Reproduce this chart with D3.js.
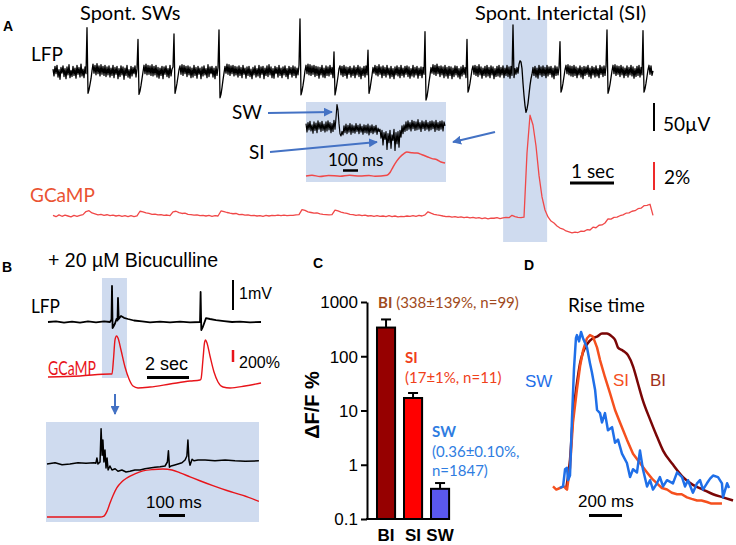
<!DOCTYPE html>
<html><head><meta charset="utf-8">
<script src="https://cdn.jsdelivr.net/npm/d3@7"></script>
<style>body{margin:0;background:#fff}</style>
</head><body>
<svg id="fig" width="736" height="545" xmlns="http://www.w3.org/2000/svg"></svg>
<script>
// ---------------- DATA ----------------
// Panel A: spontaneous LFP (µV), 44 samples/s
const lfpA_fs = 44;
const lfpA = [
 5,-7,10,-3,12,-9,4,-13,8,-2,11,-8,6,-12,9,-5,13,-10,3,-8,
 10,-6,7,-11,12,-4,8,-9,14,-7,5,-10,9,-3,79,-38,-32,-22,-12,2,
 14,-2,12,-5,15,-3,11,-7,13,-4,10,-6,12,-8,9,-5,11,-9,7,-6,
 12,-10,8,-4,10,-12,6,-8,11,-5,9,-13,7,-6,12,-9,4,-11,10,-7,
 8,-3,11,-9,6,58,-40,-34,-24,-12,0,12,-3,14,-5,12,-4,11,-6,13,
 -7,10,-5,12,-9,8,-11,7,-6,10,-12,9,-4,11,-8,6,-10,12,-7,5,
 9,68,-38,-30,-20,-8,4,11,-4,13,-6,12,-3,10,-8,11,-5,9,-10,7,
 -9,12,-6,8,-11,10,-4,7,-12,9,-7,11,-5,6,-10,13,-8,9,-3,10,
 -9,7,-12,10,-6,8,75,-46,-40,-28,-14,-2,10,-2,14,-4,13,-6,11,-3,
 12,-7,10,-5,9,-9,11,-6,8,-10,12,-4,7,-11,9,-6,10,-8,5,-12,
 8,-5,11,-9,6,-7,12,-10,9,-4,10,-12,7,-6,11,-8,13,-5,9,-10,
 6,-11,10,-3,8,-9,12,-6,7,-10,9,-5,11,-8,6,-12,10,-4,8,-9,
 11,-6,9,-10,7,-5,12,95,-41,-34,-24,-12,2,12,-3,14,-5,13,-6,11,
 -4,12,-8,10,-6,9,-11,8,-5,12,-9,7,-10,11,-6,9,-7,12,-4,8,
 -10,36,-41,-32,-20,-8,6,11,-5,10,-8,12,-6,9,-11,8,-4,10,-9,7,
 -6,11,-10,8,-5,12,-8,9,-12,7,-6,10,-9,11,-5,39,-38,-30,-18,-6,
 8,-2,12,-5,10,-7,13,-4,9,-10,11,-6,8,-9,12,-5,7,-11,10,-8,
 6,-12,9,-5,11,-7,8,-10,12,-6,7,-9,10,-4,11,-8,9,-11,6,-7,
 12,-9,8,-5,10,-11,7,-6,9,-10,8,-4,72,-50,-44,-32,-18,-6,8,-2,
 13,-4,12,-6,14,-3,10,-8,11,-5,9,-10,12,-7,8,-11,10,-6,9,-12,
 7,-8,11,-5,10,-9,6,-12,9,-7,12,-4,8,-10,58,-36,-30,-20,-8,4,
 11,-4,12,-6,10,-8,13,-5,9,-11,7,-6,10,-9,12,-7,8,-10,11,-5,
 9,-12,6,-8,10,-7,12,-9,8,-5,11,-10,7,-6,12,-8,9,-11,10,-6,
 84,-10,6,-4,8,-2,14,20,18,6,-20,-42,-60,-72,-66,-56,-40,-24,-12,-4,
 8,-6,10,-9,7,-11,12,-5,9,-8,11,-6,8,-10,12,-7,9,-4,10,-9,
 7,-12,11,-6,9,-5,8,54,-36,-30,-20,-8,4,12,-3,13,-5,11,-7,10,
 -8,12,-6,9,-10,7,-5,11,-9,8,-12,10,-6,9,-4,12,-8,7,-11,10,
 -5,8,-9,11,-7,6,-10,12,-4,9,-8,11,-6,10,75,-38,-32,-22,-10,2,
 12,-3,13,-6,11,-4,10,-8,12,-5,9,-10,7,-6,11,-9,8,-5,12,-7,
 9,-11,6,-8,10,-6,12,-9,8,-5,74,-36,-30,-20,-8,4,12,-4,11,-6,
 2
];
// Panel A: GCaMP ΔF/F (%), 44/3 samples/s
const gcampA_fs = 44 / 3;
const gcampA = [
 0.05,-0.05,0.08,-0.02,0.06,0.0,-0.06,0.04,-0.03,0.05,
 0.1,0.32,0.38,0.22,0.15,0.08,0.12,0.05,0.09,0.02,
 0.06,0.0,0.04,-0.03,0.02,-0.05,0.03,-0.04,0.01,0.34,
 0.3,0.22,0.18,0.12,0.14,0.08,0.1,0.05,0.07,0.02,
 0.3,0.34,0.24,0.18,0.2,0.12,0.1,0.06,0.08,0.03,
 0.05,0.0,0.04,-0.02,0.03,0.0,0.36,0.32,0.25,0.2,
 0.16,0.18,0.1,0.12,0.06,0.08,0.02,0.05,0.0,0.03,
 -0.02,0.04,0.0,0.05,0.02,0.07,0.03,0.06,0.02,0.05,
 0.04,0.08,0.1,0.45,0.4,0.3,0.25,0.2,0.22,0.15,
 0.12,0.1,0.08,0.1,0.42,0.36,0.28,0.22,0.18,0.12,
 0.1,0.05,0.08,0.02,0.06,0.0,0.03,-0.02,0.02,-0.03,
 0.0,-0.04,0.02,-0.05,0.0,-0.06,-0.02,-0.05,0.0,-0.03,
 0.02,-0.02,0.05,0.0,0.08,0.3,0.2,0.12,0.08,0.05,
 0.0,-0.04,-0.02,-0.08,-0.05,-0.1,-0.06,-0.12,-0.08,-0.14,
 -0.1,-0.15,-0.12,-0.18,-0.14,-0.2,-0.15,-0.16,-0.12,-0.18,
 -0.14,-0.1,-0.12,0.05,-0.05,-0.1,-0.12,-0.08,4.5,7.2,
 6.5,5.0,2.9,1.36,0.43,-0.07,-0.36,-0.5,-0.71,-0.86,
 -0.93,-1.07,-1.14,-1.21,-1.15,-1.18,-1.08,-1.1,-0.98,-1.0,
 -0.8,-0.84,-0.66,-0.64,-0.5,-0.2,-0.22,-0.1,-0.08,0.02,
 0.08,0.2,0.22,0.34,0.38,0.52,0.56,0.74,0.76,0.84,
 0.05
];
const highlightA = [10.23, 11.23];          // s
// Panel A inset: LFP (µV), 150 samples/s
const insetA_fs = 150;
const insetA_lfp = [
 6,-9,8,-5,10,-7,4,-11,9,-6,7,-10,11,-4,8,-8,10,-6,5,-9,
 9,-7,11,-5,8,-10,6,-8,12,-4,16,40,30,6,-12,-16,-8,-14,2,-10,
 5,-12,3,-9,6,-13,4,-10,2,-11,6,-8,3,-12,5,-9,1,-13,4,-10,
 3,-11,5,-14,2,-10,4,-12,1,-9,3,-13,-2,-8,-4,-20,-6,-32,-10,-22,
 -8,-40,-12,-28,-6,-38,-14,-24,-4,-42,-10,-30,-8,-36,-6,-18,2,-12,4,-8,
 9,-6,11,-4,8,-7,12,-3,10,-6,9,-5,13,-4,8,-8,11,-3,9,-6,
 12,-4,8,-7,10,-5,11,-3,9,-8,12,-5,8,-6,10,-4,11,-7,9,2
];
// Panel A inset: GCaMP [ms, %]
const insetA_gcamp = [
 [0,0],[40,0.05],[93,-0.03],[150,0.04],[227,-0.02],[290,0.05],[360,0.0],[420,0.04],[460,-0.02],
 [540,0.05],[560,0.25],[580,0.64],[607,1.1],[627,1.36],[653,1.6],[673,1.71],[707,1.66],
 [740,1.64],[773,1.52],[807,1.38],[840,1.24],[873,1.16],[900,1.0],[927,0.93]
];

// Panel B: LFP [s, mV]
const lfpB = [
 [0,0],[0.381,0.02],[0.762,-0.02],[1.143,0.01],[1.524,-0.02],[1.905,0.02],[2.286,-0.01],
 [2.667,0.02],[2.952,0],[3.024,0.08],[3.048,1.2],[3.076,-0.2],[3.119,-0.15],[3.19,-0.05],
 [3.262,0.1],[3.31,0.05],[3.333,0.8],[3.367,0.1],[3.476,0.2],[3.619,0.14],[3.81,0.1],
 [4.095,0.05],[4.476,0.02],[4.857,-0.01],[5.333,0.01],[5.81,-0.01],[6.286,0.01],[6.762,-0.01],
 [7.238,0],[7.267,1.0],[7.3,-0.27],[7.381,-0.15],[7.524,0.13],[7.714,0.1],[8.0,0.06],
 [8.381,0.03],[8.762,0],[9.143,0.01],[9.619,-0.01],[10.143,0]
];
// Panel B: GCaMP [s, %]
const gcampB = [
 [0,0],[1.524,17],[2.952,50],[3.048,50],[3.119,300],[3.19,617],[3.262,683],[3.333,650],
 [3.476,450],[3.667,167],[3.857,-33],[4.048,-150],[4.286,-183],[4.857,-167],[5.81,-117],
 [6.762,-67],[7.238,-50],[7.286,-33],[7.381,300],[7.452,567],[7.5,617],[7.571,567],
 [7.714,350],[7.905,83],[8.095,-83],[8.333,-167],[8.667,-183],[9.381,-150],[10.143,-100]
];
const highlightB = [2.57, 3.76];            // s
// Panel B inset: LFP [ms, mV]
const insetB_lfp = [
 [0,0],[31,0.03],[58,-0.02],[88,0],[119,0.03],[150,0.02],[181,0.03],[188,0.02],[192,0.15],
 [196,0],[204,0.05],[208,0.88],[212,0.22],[215,0.6],[219,0.05],[223,0.35],[227,-0.1],
 [231,0.15],[235,-0.15],[242,-0.05],[250,-0.15],[262,-0.12],[273,-0.18],[288,-0.15],
 [304,-0.2],[319,-0.18],[338,-0.15],[358,-0.15],[377,-0.12],[396,-0.1],[415,-0.08],
 [435,-0.07],[454,-0.05],[463,0.05],[467,0.33],[471,-0.08],[477,-0.05],[488,-0.03],
 [504,0],[519,0.03],[531,0.1],[538,0.2],[542,0.6],[546,0.1],[550,-0.03],[558,0.12],
 [565,0.08],[581,0.1],[608,0.1],[646,0.08],[685,0.1],[723,0.08],[762,0.07],[815,0.08]
];
// Panel B inset: GCaMP [ms, %]
const insetB_gcamp = [
 [0,0],[204,0],[219,14],[231,84],[242,196],[254,308],[269,420],[288,504],[308,560],
 [338,616],[369,658],[408,679],[446,686],[481,672],[512,630],[550,574],[588,518],
 [638,448],[692,378],[754,308],[815,224]
];

// Panel C: peak ΔF/F %
const groupsC = ["BI", "SI", "SW"];
const meansC = [338, 17, 0.36];
const errsC = [139, 4, 0.10];
const yTicksC = [0.1, 1, 10, 100, 1000];
const notesC = [
  ["BI", "(338±139%, n=99)"],
  ["SI", "(17±1%, n=11)"],
  ["SW", "(0.36±0.10%,", "n=1847)"]
];

// Panel D: normalized rise [ms, norm]
const riseSW = [
 [42,0],[61,0.01],[73,0.12],[85,0.13],[91,0.05],[103,0.08],[115,0.44],[127,0.76],[139,0.96],
 [145,0.98],[158,0.94],[170,1.0],[182,0.96],[206,0.9],[224,0.8],[236,0.74],[255,0.63],
 [267,0.5],[285,0.48],[297,0.42],[315,0.48],[333,0.37],[358,0.39],[376,0.29],[394,0.31],
 [418,0.22],[448,0.16],[467,0.07],[485,0.12],[509,0.1],[527,0.24],[545,0.12],[570,0.01],
 [588,0.05],[606,-0.01],[630,0.03],[648,0.07],[667,0.01],[691,0.05],[727,0.03],[752,0.1],
 [782,0.07],[800,0.01],[818,0.05],[848,-0.03],[873,0.03],[891,0.05],[909,-0.01],[933,0.03],
 [952,0.06],[970,0.08],[1000,0.07],[1024,0.03],[1030,-0.06],[1055,0.03],[1067,0]
];
const riseSI = [
 [0,0.01],[20,-0.01],[42,0],[65,0.01],[85,-0.01],[103,0.13],[121,0.42],[145,0.63],[164,0.78],
 [182,0.88],[206,0.96],[224,0.98],[242,0.97],[267,0.9],[285,0.82],[315,0.71],[345,0.61],
 [376,0.5],[406,0.42],[448,0.31],[485,0.22],[527,0.16],[570,0.1],[600,0.06],[630,0.03],
 [660,0.0],[691,-0.01],[720,-0.03],[752,-0.04],[780,-0.04],[812,-0.06],[840,-0.07],
 [873,-0.08],[900,-0.08],[933,-0.09],[960,-0.1],[994,-0.1],[1024,-0.1]
];
const riseBI = [
 [79,-0.01],[103,0.18],[121,0.46],[145,0.67],[164,0.8],[182,0.87],[212,0.93],[242,0.96],
 [267,0.97],[297,0.99],[327,0.99],[358,0.97],[376,0.95],[394,0.9],[424,0.88],[455,0.85],
 [485,0.78],[515,0.67],[545,0.56],[588,0.44],[630,0.33],[667,0.24],[727,0.15],[788,0.07],
 [848,0.02],[909,-0.01],[970,-0.04],[1030,-0.06],[1091,-0.08]
];

// ---------------- DRAWING ----------------
const svg = d3.select("#fig");
const F_CAL = "Lato, 'Open Sans', sans-serif";
const F_ARI = "'Liberation Sans', Arial, sans-serif";
const HL = "#cfdbef", ARROW = "#4472c4";

const defs = svg.append("defs");
defs.append("marker").attr("id", "arr").attr("viewBox", "0 0 10 10")
  .attr("refX", 9).attr("refY", 5).attr("markerWidth", 4.5).attr("markerHeight", 4.5)
  .attr("orient", "auto-start-reverse")
  .append("path").attr("d", "M0,0L10,5L0,10z").attr("fill", ARROW);

function txt(x, y, s, o = {}) {
  const t = svg.append("text").attr("x", x).attr("y", y).text(s)
    .attr("font-family", o.ff || F_CAL).attr("font-size", o.fs || 18)
    .attr("fill", o.fill || "#000");
  if (o.fw) t.attr("font-weight", o.fw);
  if (o.anchor) t.attr("text-anchor", o.anchor);
  if (o.len) t.attr("textLength", o.len).attr("lengthAdjust", "spacingAndGlyphs");
  return t;
}
function seg(x1, y1, x2, y2, color, w) {
  return svg.append("line").attr("x1", x1).attr("y1", y1).attr("x2", x2).attr("y2", y2)
    .attr("stroke", color).attr("stroke-width", w);
}
function path(data, x, y, color, w, curve) {
  const g = d3.line().x(d => x(d[0])).y(d => y(d[1])).curve(curve || d3.curveLinear);
  return svg.append("path").attr("d", g(data)).attr("fill", "none")
    .attr("stroke", color).attr("stroke-width", w).attr("stroke-linejoin", "round");
}

// ===== Panel A =====
const xA = d3.scaleLinear().domain([0, (lfpA.length - 1) / lfpA_fs]).range([53, 653]);
const yA = d3.scaleLinear().domain([-50, 50]).range([100, 44]);
const yAG = d3.scaleLinear().domain([0, 2]).range([216, 188]);

svg.append("rect").attr("x", xA(highlightA[0])).attr("y", 19)
  .attr("width", xA(highlightA[1]) - xA(highlightA[0])).attr("height", 223).attr("fill", HL);

path(lfpA.map((v, i) => [i / lfpA_fs, v]), xA, yA, "#000", 1.3);
path(gcampA.map((v, i) => [i / gcampA_fs, v]), xA, yAG, "#f04848", 1.3);

// inset A
svg.append("rect").attr("x", 306).attr("y", 102).attr("width", 140).attr("height", 80).attr("fill", HL);
const xIA = d3.scaleLinear().domain([0, 100]).range([306, 321]);
const yIA = d3.scaleLinear().domain([-50, 50]).range([155, 99]);
const yIAG = d3.scaleLinear().domain([0, 1]).range([176, 162]);
path(insetA_lfp.map((v, i) => [i * 1000 / insetA_fs, v]), xIA, yIA, "#000", 1.2);
path(insetA_gcamp, xIA, yIAG, "#f04848", 1.5, d3.curveMonotoneX);
txt(328, 166, "100 ms", { fs: 17 });
seg(xIA(0) + 37, 170.5, xIA(100) + 37, 170.5, "#000", 2.5);

// arrows
svg.append("line").attr("x1", 268).attr("y1", 113).attr("x2", 332).attr("y2", 112)
  .attr("stroke", ARROW).attr("stroke-width", 2).attr("marker-end", "url(#arr)");
svg.append("line").attr("x1", 270).attr("y1", 152).attr("x2", 377).attr("y2", 142)
  .attr("stroke", ARROW).attr("stroke-width", 2).attr("marker-end", "url(#arr)");
svg.append("line").attr("x1", 495).attr("y1", 132).attr("x2", 453).attr("y2", 142)
  .attr("stroke", ARROW).attr("stroke-width", 2).attr("marker-end", "url(#arr)");

txt(3, 31, "A", { ff: F_ARI, fs: 14, fw: "bold" });
txt(80, 20, "Spont. SWs", { fs: 20 });
txt(475, 20, "Spont. Interictal (SI)", { fs: 20 });
txt(31, 61, "LFP", { fs: 19 });
txt(232, 119, "SW", { fs: 19 });
txt(249, 159, "SI", { fs: 19 });
txt(30, 202, "GCaMP", { fs: 19, fill: "#ea5332" });
// scale bars A
seg(654, yA(0) + 59, 654, yA(50) + 59, "#000", 2);
txt(663, 131, "50µV", { fs: 19 });
seg(xA(0) + 517, 183, xA(1) + 517, 183, "#000", 3);
txt(571, 178, "1 sec", { fs: 19 });
seg(654, yAG(0) - 26, 654, yAG(2) - 26, "#ee2a2a", 2);
txt(664, 184, "2%", { fs: 19 });

// ===== Panel B =====
const xB = d3.scaleLinear().domain([0, 1]).range([48, 69]);
const yB = d3.scaleLinear().domain([0, 1]).range([322, 292]);
const yBG = d3.scaleLinear().domain([0, 200]).range([377, 365]);
svg.append("rect").attr("x", xB(highlightB[0])).attr("y", 278)
  .attr("width", xB(highlightB[1]) - xB(highlightB[0])).attr("height", 100).attr("fill", HL);
path(lfpB, xB, yB, "#000", 1.8);
path(gcampB, xB, yBG, "#e8141a", 1.4, d3.curveMonotoneX);

txt(2, 272, "B", { ff: F_ARI, fs: 14, fw: "bold" });
txt(48, 267, "+ 20 µM Bicuculline", { ff: F_ARI, fs: 19.5 });
txt(31, 313, "LFP", { fs: 19, len: 29 });
txt(48, 375, "GCaMP", { fs: 20, fill: "#e8141a", len: 48 });
seg(233, yB(0) - 12, 233, yB(1) - 12, "#000", 2);
txt(239, 299, "1mV", { ff: F_ARI, fs: 16 });
seg(xB(0) + 99, 377.5, xB(2) + 99, 377.5, "#000", 3);
txt(145, 370, "2 sec", { ff: F_ARI, fs: 18 });
seg(233, yBG(0) - 15, 233, yBG(200) - 15, "#e8141a", 2.5);
txt(239, 368, "200%", { ff: F_ARI, fs: 16 });
svg.append("line").attr("x1", 115).attr("y1", 394).attr("x2", 115).attr("y2", 414)
  .attr("stroke", ARROW).attr("stroke-width", 2).attr("marker-end", "url(#arr)");

// inset B
svg.append("rect").attr("x", 46).attr("y", 422).attr("width", 213).attr("height", 100).attr("fill", HL);
const xIB = d3.scaleLinear().domain([0, 100]).range([47, 73]);
const yIB = d3.scaleLinear().domain([0, 1]).range([464, 424]);
const yIBG = d3.scaleLinear().domain([0, 700]).range([517, 468]);
path(insetB_lfp, xIB, yIB, "#000", 1.5);
path(insetB_gcamp, xIB, yIBG, "#e8141a", 1.4, d3.curveMonotoneX);
seg(xIB(0) + 112, 515.5, xIB(100) + 112, 515.5, "#000", 3);
txt(146, 508, "100 ms", { ff: F_ARI, fs: 17 });

// ===== Panel C =====
const yC = d3.scaleLog().domain([0.1, 1000]).range([519, 302]);
const xC = d3.scaleBand().domain(groupsC).range([372.4, 453.7]).paddingInner(0.33).paddingOuter(0.17);
const barColors = ["#960000", "#ff0000", "#5a58ee"];
const noteColors = ["#a04a20", "#f0401a", "#2f7de1"];

const gy = svg.append("g").attr("transform", "translate(367,0)")
  .call(d3.axisLeft(yC).tickValues(yTicksC).tickFormat(d => String(d)).tickSize(6).tickSizeOuter(0));
gy.selectAll("path,line").attr("stroke", "#000").attr("stroke-width", 2);
gy.selectAll("text").attr("font-family", F_ARI).attr("font-size", 17).attr("fill", "#000").attr("dy", "0.35em");

groupsC.forEach((g, i) => {
  svg.append("rect").attr("x", xC(g)).attr("y", yC(meansC[i]))
    .attr("width", xC.bandwidth()).attr("height", yC(0.1) - yC(meansC[i]))
    .attr("fill", barColors[i]).attr("stroke", "#000").attr("stroke-width", 2);
  const cx = xC(g) + xC.bandwidth() / 2;
  seg(cx, yC(meansC[i]), cx, yC(meansC[i] + errsC[i]), "#000", 2);
  seg(cx - 5, yC(meansC[i] + errsC[i]), cx + 5, yC(meansC[i] + errsC[i]), "#000", 2);
});
seg(366, 519, 449, 519, "#000", 2);
const gx = svg.append("g").attr("transform", "translate(0,519)")
  .call(d3.axisBottom(xC).tickSize(0));
gx.select(".domain").remove();
gx.selectAll("text").attr("font-family", F_ARI).attr("font-size", 17).attr("font-weight", "bold")
  .attr("fill", "#000").attr("dy", "1.1em");

txt(313, 268, "C", { ff: F_ARI, fs: 14, fw: "bold" });
svg.append("text").attr("transform", "translate(319,405) rotate(-90)")
  .attr("text-anchor", "middle").attr("font-family", F_ARI).attr("font-size", 20)
  .attr("font-weight", "bold").text("ΔF/F %");

// annotations
const n0 = txt(378, 308, "", { fs: 15, fill: noteColors[0] });
n0.append("tspan").attr("font-weight", "bold").text(notesC[0][0]);
n0.append("tspan").text(" " + notesC[0][1]);
txt(405, 363, notesC[1][0], { fs: 15, fw: "bold", fill: noteColors[1] });
txt(405, 383, notesC[1][1], { fs: 15, fill: noteColors[1] });
txt(432, 437, notesC[2][0], { fs: 15, fw: "bold", fill: noteColors[2] });
txt(432, 457, notesC[2][1], { fs: 15, fill: noteColors[2] });
txt(432, 476, notesC[2][2], { fs: 15, fill: noteColors[2] });

// ===== Panel D =====
const xD = d3.scaleLinear().domain([0, 1000]).range([553, 718]);
const yD = d3.scaleLinear().domain([0, 1]).range([488, 332]);
path(riseBI, xD, yD, "#7a0606", 2.5, d3.curveMonotoneX);
path(riseSI, xD, yD, "#f5501e", 2.5);
path(riseSW, xD, yD, "#1f6fe8", 2.5);

txt(524, 270, "D", { ff: F_ARI, fs: 14, fw: "bold" });
txt(568, 312, "Rise time", { fs: 19 });
txt(525, 387, "SW", { ff: F_ARI, fs: 17, fill: "#1f6fe8" });
txt(613, 386, "SI", { ff: F_ARI, fs: 17, fill: "#f5501e" });
txt(650, 386, "BI", { ff: F_ARI, fs: 17, fill: "#a0301a" });
seg(xD(0) + 36, 515.5, xD(200) + 36, 515.5, "#000", 3);
txt(578, 507, "200 ms", { ff: F_ARI, fs: 17 });
</script>
</body></html>
